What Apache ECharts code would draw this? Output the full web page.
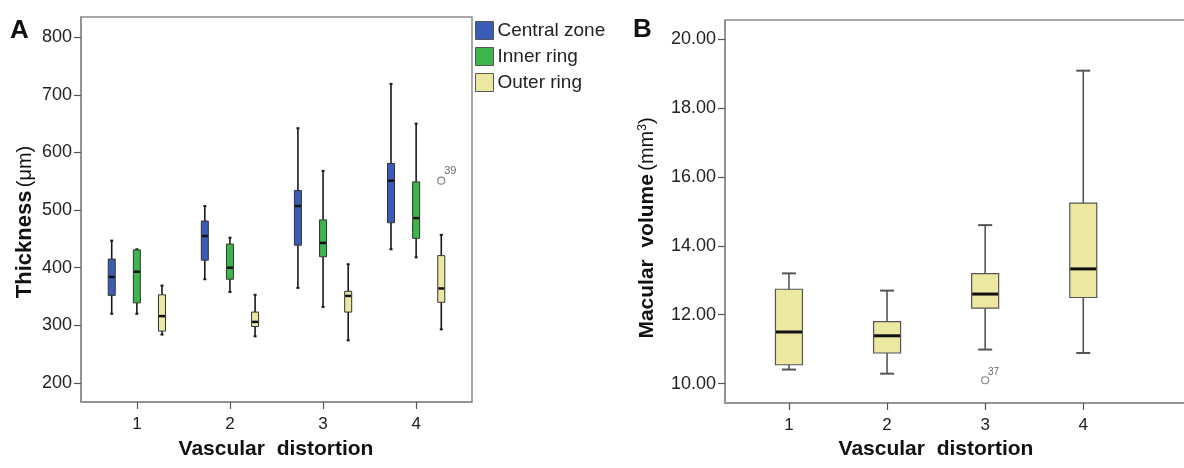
<!DOCTYPE html>
<html>
<head>
<meta charset="utf-8">
<script src="https://cdn.jsdelivr.net/npm/echarts@6/dist/echarts.min.js"></script>
<style>
html,body{margin:0;padding:0;background:#fff;}
#c{width:1184px;height:468px;}
</style>
</head>
<body>
<div id="c"></div>
<script>
// ---------- DATA ----------
const categories = [1, 2, 3, 4];
const seriesNames = ['Central zone', 'Inner ring', 'Outer ring'];
// [lower whisker, Q1, median, Q3, upper whisker] per category
const centralZone = [[320, 352, 384, 415, 447], [380, 413, 455, 481, 507], [365, 439, 507, 534, 642], [432, 478, 551, 581, 719]];
const innerRing   = [[320, 339, 393, 431, 432], [358, 380, 400, 441, 452], [332, 419, 443, 483, 568], [418, 451, 486, 549, 650]];
const outerRing   = [[284, 290, 316, 353, 369], [281, 298, 306, 323, 353], [274, 323, 351, 359, 406], [293, 340, 364, 421, 457]];
const thicknessOutliers = [{cat: 4, group: 2, value: 551, label: '39'}];
const thicknessTicks = [200, 300, 400, 500, 600, 700, 800];

const macularVolume = [[10.41, 10.55, 11.50, 12.74, 13.20], [10.29, 10.89, 11.39, 11.80, 12.70], [10.99, 12.19, 12.60, 13.19, 14.60], [10.89, 12.50, 13.33, 15.24, 19.08]];
const volumeOutliers = [{cat: 3, value: 10.10, label: '37'}];
const volumeTicks = [10, 12, 14, 16, 18, 20];

// ---------- STYLE ----------
const FONT = '"Liberation Sans", Arial, Helvetica, sans-serif';
const colors = ['#3b5cb6', '#3cb54b', '#ece8a2'];
const groupOffsets = [-0.27, 0, 0.27];
const FRAME = '#8c8c8c';

function boxRender(boxW, capW, o) {
  return function (params, api) {
    const x = api.value(0);
    const lo = api.coord([x, api.value(1)]);
    const q1 = api.coord([x, api.value(2)]);
    const md = api.coord([x, api.value(3)]);
    const q3 = api.coord([x, api.value(4)]);
    const hi = api.coord([x, api.value(5)]);
    const cx = lo[0];
    const wl = {stroke: o.whisker, lineWidth: o.whiskerW};
    const cl = {stroke: o.whisker, lineWidth: o.capLW};
    return {
      type: 'group',
      children: [
        {type: 'line', shape: {x1: cx, y1: hi[1], x2: cx, y2: q3[1]}, style: wl},
        {type: 'line', shape: {x1: cx, y1: q1[1], x2: cx, y2: lo[1]}, style: wl},
        {type: 'line', shape: {x1: cx - capW / 2, y1: hi[1], x2: cx + capW / 2, y2: hi[1]}, style: cl},
        {type: 'line', shape: {x1: cx - capW / 2, y1: lo[1], x2: cx + capW / 2, y2: lo[1]}, style: cl},
        {type: 'rect', shape: {x: cx - boxW / 2, y: q3[1], width: boxW, height: q1[1] - q3[1]},
          style: {fill: api.visual('color'), stroke: o.border, lineWidth: o.borderW}},
        {type: 'line', shape: {x1: cx - boxW / 2 + 0.5, y1: md[1], x2: cx + boxW / 2 - 0.5, y2: md[1]},
          style: {stroke: '#111', lineWidth: o.medianW}}
      ]
    };
  };
}

const leftGroups = [centralZone, innerRing, outerRing];
const series = [];
leftGroups.forEach(function (grp, g) {
  series.push({
    name: seriesNames[g],
    type: 'custom',
    xAxisIndex: 0, yAxisIndex: 0,
    itemStyle: {color: colors[g]},
    encode: {x: 0, y: [1, 2, 3, 4, 5]},
    renderItem: boxRender(7, 3, {whisker: '#1a1a1a', whiskerW: 1.6, capLW: 2, border: '#333', borderW: 1, medianW: 2.5}),
    data: categories.map(function (c, i) { return [c + groupOffsets[g]].concat(grp[i]); })
  });
});
series.push({
  name: 'thickOut', type: 'scatter', xAxisIndex: 0, yAxisIndex: 0,
  symbol: 'circle', symbolSize: 7,
  itemStyle: {color: '#fff', borderColor: '#666', borderWidth: 1.2},
  label: {show: true, position: [7, -11], formatter: function (p) { return p.data[2]; }, fontSize: 11, color: '#444', fontFamily: FONT},
  data: thicknessOutliers.map(function (o) { return [o.cat + groupOffsets[o.group], o.value, o.label]; })
});
series.push({
  name: 'Volume', type: 'custom', xAxisIndex: 1, yAxisIndex: 1,
  itemStyle: {color: colors[2]},
  encode: {x: 0, y: [1, 2, 3, 4, 5]},
  renderItem: boxRender(27, 14, {whisker: '#555', whiskerW: 1.6, capLW: 2, border: '#555', borderW: 1.2, medianW: 3}),
  data: categories.map(function (c, i) { return [c].concat(macularVolume[i]); })
});
series.push({
  name: 'volOut', type: 'scatter', xAxisIndex: 1, yAxisIndex: 1,
  symbol: 'circle', symbolSize: 7,
  itemStyle: {color: '#fff', borderColor: '#666', borderWidth: 1.2},
  label: {show: true, position: [7, -9], formatter: function (p) { return p.data[2]; }, fontSize: 10, color: '#444', fontFamily: FONT},
  data: volumeOutliers.map(function (o) { return [o.cat, o.value, o.label]; })
});

function xAxisCfg(gi, min, max) {
  return {
    gridIndex: gi, type: 'value', min: min, max: max,
    axisLine: {show: true, lineStyle: {color: FRAME, width: 1.5}},
    splitLine: {show: false},
    axisTick: {show: true, customValues: categories, length: 7, lineStyle: {color: '#555', width: 1.2}},
    axisLabel: {customValues: categories, margin: 14, fontSize: 17, color: '#222', fontFamily: FONT}
  };
}
function yAxisCfg(gi, min, max, ticks, fmt) {
  return {
    gridIndex: gi, type: 'value', min: min, max: max,
    axisLine: {show: true, lineStyle: {color: FRAME, width: 1.5}},
    splitLine: {show: false},
    axisTick: {show: true, customValues: ticks, length: 7, lineStyle: {color: '#555', width: 1.2}},
    axisLabel: {customValues: ticks, margin: 9, fontSize: 18, color: '#222', fontFamily: FONT, formatter: fmt}
  };
}

const option = {
  animation: false,
  backgroundColor: '#fff',
  grid: [
    {left: 81, top: 17, width: 391, height: 385, show: true, borderColor: FRAME, borderWidth: 1.5, backgroundColor: 'transparent', outerBoundsMode: 'none', containLabel: false},
    {left: 725, top: 20, width: 475, height: 383, show: true, borderColor: FRAME, borderWidth: 1.5, backgroundColor: 'transparent', outerBoundsMode: 'none', containLabel: false}
  ],
  xAxis: [xAxisCfg(0, 0.4, 4.6), xAxisCfg(1, 0.348, 5.19)],
  yAxis: [
    yAxisCfg(0, 167, 835, thicknessTicks, function (v) { return String(v); }),
    yAxisCfg(1, 9.44, 20.55, volumeTicks, function (v) { return v.toFixed(2); })
  ],
  legend: {
    orient: 'vertical', left: 475, top: 21, padding: 0, itemWidth: 18, itemHeight: 18, itemGap: 7, icon: 'rect',
    data: seriesNames, selectedMode: false,
    itemStyle: {borderColor: '#555', borderWidth: 1},
    textStyle: {fontSize: 19, lineHeight: 18, color: '#222', fontFamily: FONT, padding: [0, 0, 0, -1]}
  },
  graphic: [
    {type: 'text', left: 10, top: 18, style: {text: 'A', font: 'bold 26px ' + FONT, fill: '#111'}},
    {type: 'text', left: 633, top: 17, style: {text: 'B', font: 'bold 26px ' + FONT, fill: '#111'}},
    {type: 'text', x: 25, y: 222, rotation: Math.PI / 2,
      style: {text: '{b|Thickness} {n|(μm)}', align: 'center', verticalAlign: 'middle', fill: '#111',
        rich: {b: {fontWeight: 'bold', fontSize: 22, fontFamily: FONT, fill: '#111'}, n: {fontSize: 20, fontFamily: FONT, fill: '#111'}}}},
    {type: 'text', x: 647, y: 228, rotation: Math.PI / 2,
      style: {text: '{b|Macular  volume} {n|(mm}{s|3}{n|)}', align: 'center', verticalAlign: 'middle', fill: '#111',
        rich: {b: {fontWeight: 'bold', fontSize: 21, fontFamily: FONT, fill: '#111'}, n: {fontSize: 20, fontFamily: FONT, fill: '#111'}, s: {fontSize: 12, fontFamily: FONT, verticalAlign: 'top', fill: '#111'}}}},
    {type: 'text', x: 276, y: 449, style: {text: 'Vascular  distortion', font: 'bold 21px ' + FONT, fill: '#111', align: 'center', verticalAlign: 'middle'}},
    {type: 'text', x: 936, y: 449, style: {text: 'Vascular  distortion', font: 'bold 21px ' + FONT, fill: '#111', align: 'center', verticalAlign: 'middle'}}
  ],
  series: series
};

const chart = echarts.init(document.getElementById('c'), null, {renderer: 'canvas'});
chart.setOption(option);
</script>
</body>
</html>
